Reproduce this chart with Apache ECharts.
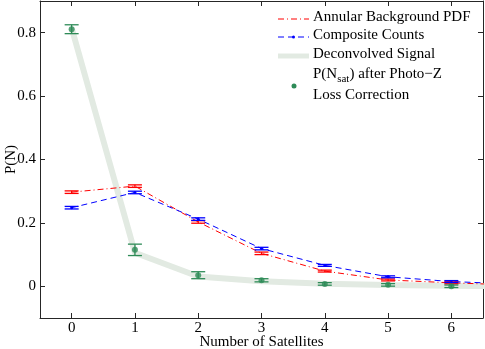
<!DOCTYPE html>
<html>
<head>
<meta charset="utf-8">
<script src="https://cdn.jsdelivr.net/npm/echarts@6/dist/echarts.min.js"></script>
<style>
  html, body { margin: 0; padding: 0; background: #fff; }
  #main { width: 485px; height: 349px; }
</style>
</head>
<body>
<div id="main"></div>
<script>
// satellites count (last point sits outside the box and gets clipped)
var nSat = [0, 1, 2, 3, 4, 5, 6, 7];
var annular = [0.297, 0.316, 0.203, 0.104, 0.048, 0.020, 0.011, 0.004];
var annularErr = [0.004, 0.004, 0.004, 0.004, 0.003, 0.003, 0.003];
var composite = [0.248, 0.296, 0.212, 0.119, 0.066, 0.030, 0.015, 0.007];
var compositeErr = [0.004, 0.004, 0.004, 0.004, 0.003, 0.003, 0.003];
var deconvolved = [0.815, 0.106, 0.031, 0.016, 0.008, 0.004, 0.002, 0.0005];
var photoZ = [0.811, 0.115, 0.035, 0.019, 0.0075, 0.0045, 0.0];
var photoZErr = [0.014, 0.018, 0.011, 0.005, 0.004, 0.004, 0.004];

var FONT = 'Liberation Serif';
var FS = 15;
var AXIS = '#262626';

function pairs(ys) {
    return ys.map(function (y, i) { return [nSat[i], y]; });
}
function triples(ys, es) {
    return es.map(function (e, i) { return [nSat[i], ys[i], e]; });
}

function errorBars(color) {
    return function (params, api) {
        var x = api.value(0), y = api.value(1), e = api.value(2);
        var hi = api.coord([x, y + e]);
        var lo = api.coord([x, y - e]);
        var w = 7;
        var st = { stroke: color, lineWidth: 1.3 };
        return {
            type: 'group',
            children: [
                { type: 'line', shape: { x1: hi[0], y1: hi[1], x2: lo[0], y2: lo[1] }, style: st },
                { type: 'line', shape: { x1: hi[0] - w, y1: hi[1], x2: hi[0] + w, y2: hi[1] }, style: st },
                { type: 'line', shape: { x1: lo[0] - w, y1: lo[1], x2: lo[0] + w, y2: lo[1] }, style: st }
            ]
        };
    };
}

var myChart = echarts.init(document.getElementById('main'));

var tickLabelY = function (v) {
    var k = Math.round(v * 10);
    if (Math.abs(v * 10 - k) > 1e-6 || k % 2 !== 0 || k < 0 || k > 8) return '';
    return k === 0 ? '0' : (k / 10).toFixed(1);
};
var tickLabelX = function (v) {
    return Math.abs(v - Math.round(v)) < 1e-6 ? String(Math.round(v)) : '';
};

var baseX = {
    type: 'value', min: -0.5, max: 6.5, splitNumber: 7,
    axisLine: { show: true, onZero: false, lineStyle: { color: AXIS, width: 1 } },
    axisTick: { show: true, inside: true, length: 5, lineStyle: { color: AXIS } },
    splitLine: { show: false }
};
var baseY = {
    type: 'value', min: -0.1, max: 0.9, splitNumber: 5,
    axisLine: { show: true, onZero: false, lineStyle: { color: AXIS, width: 1 } },
    axisTick: { show: true, inside: true, length: 5, lineStyle: { color: AXIS } },
    splitLine: { show: false }
};

var option = {
    animation: false,
    backgroundColor: '#fff',
    grid: { left: 40, right: 2, top: 1, bottom: 31, containLabel: false, outerBoundsMode: 'none' },
    xAxis: [
        Object.assign({}, baseX, {
            position: 'bottom',
            name: 'Number of Satellites', nameLocation: 'middle', nameGap: 17, nameMoveOverlap: false,
            nameTextStyle: { fontFamily: FONT, fontSize: FS, color: '#000' },
            axisLabel: { formatter: tickLabelX, margin: 3, fontFamily: FONT, fontSize: FS, color: '#000',
                         showMinLabel: true, showMaxLabel: true }
        }),
        Object.assign({}, baseX, { position: 'top', axisLabel: { show: false } })
    ],
    yAxis: [
        Object.assign({}, baseY, {
            position: 'left',
            name: 'P(N)', nameLocation: 'middle', nameGap: 21, nameMoveOverlap: false,
            nameTextStyle: { fontFamily: FONT, fontSize: FS, color: '#000' },
            axisLabel: { formatter: tickLabelY, margin: 4, fontFamily: FONT, fontSize: FS, color: '#000',
                         showMinLabel: true, showMaxLabel: true }
        }),
        Object.assign({}, baseY, { position: 'right', axisLabel: { show: false } })
    ],
    series: [
        {
            name: 'Deconvolved Signal', type: 'line', data: pairs(deconvolved),
            showSymbol: false, symbol: 'none', clip: true, z: 1,
            lineStyle: { color: '#e2eae2', width: 6 }
        },
        {
            name: 'Annular Background PDF', type: 'line', data: pairs(annular),
            symbol: 'none', clip: true, z: 3,
            lineStyle: { color: '#ff0000', width: 1, type: [6, 3, 1, 3] }
        },
        {
            name: 'Composite Counts', type: 'line', data: pairs(composite),
            symbol: 'circle', symbolSize: 3, clip: true, z: 3,
            itemStyle: { color: '#0000ff' },
            lineStyle: { color: '#0000ff', width: 1, type: [6, 4] }
        },
        {
            type: 'custom', renderItem: errorBars('#ff0000'), clip: true, z: 4,
            data: triples(annular, annularErr), encode: { x: 0, y: 1 }
        },
        {
            type: 'custom', renderItem: errorBars('#0000ff'), clip: true, z: 4,
            data: triples(composite, compositeErr), encode: { x: 0, y: 1 }
        },
        {
            type: 'custom', renderItem: errorBars('#2e8b57'), clip: true, z: 5,
            data: triples(photoZ, photoZErr), encode: { x: 0, y: 1 }
        },
        {
            name: 'photoZ', type: 'scatter', data: pairs(photoZ),
            symbol: 'circle', symbolSize: 6, z: 6,
            itemStyle: { color: '#2e8b57' }
        }
    ],
    graphic: [
        // legend, drawn by hand to match the MATLAB look
        { type: 'line', shape: { x1: 278, y1: 19, x2: 309, y2: 19 },
          style: { stroke: '#ff0000', lineWidth: 1, lineDash: [6, 3, 1, 3] } },
        { type: 'text', left: 313, top: 10, style: { text: 'Annular Background PDF', font: FS + 'px ' + FONT, fill: '#000' } },
        { type: 'line', shape: { x1: 278, y1: 37, x2: 309, y2: 37 },
          style: { stroke: '#0000ff', lineWidth: 1, lineDash: [6, 4] } },
        { type: 'circle', shape: { cx: 293.5, cy: 37, r: 1.5 }, style: { fill: '#0000ff' } },
        { type: 'text', left: 313, top: 28, style: { text: 'Composite Counts', font: FS + 'px ' + FONT, fill: '#000' } },
        { type: 'line', shape: { x1: 278, y1: 56, x2: 309, y2: 56 },
          style: { stroke: '#e2eae2', lineWidth: 5 } },
        { type: 'text', left: 313, top: 47, style: { text: 'Deconvolved Signal', font: FS + 'px ' + FONT, fill: '#000' } },
        { type: 'circle', shape: { cx: 294, cy: 86, r: 2.5 }, style: { fill: '#2e8b57' } },
        { type: 'text', left: 313, top: 67, style: {
            text: 'P(N{sub|sat}) after Photo\u2212Z',
            font: FS + 'px ' + FONT, fill: '#000',
            rich: { sub: { fontFamily: FONT, fontSize: 11, verticalAlign: 'bottom', padding: [9, 0, 0, 0] } }
        } },
        { type: 'text', left: 313, top: 88, style: { text: 'Loss Correction', font: FS + 'px ' + FONT, fill: '#000' } }
    ]
};

option && myChart.setOption(option);
</script>
</body>
</html>
